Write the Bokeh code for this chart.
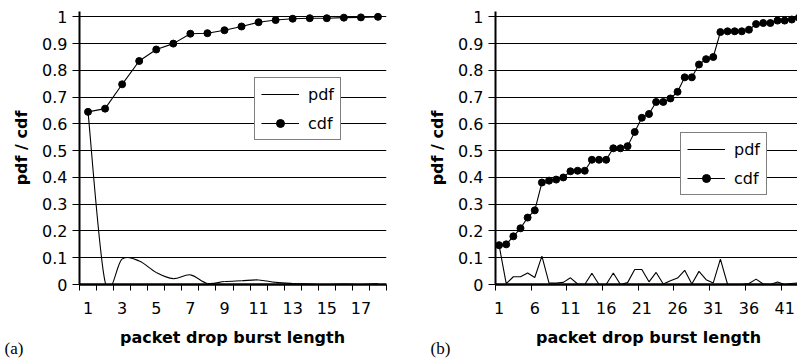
from bokeh.plotting import figure
from bokeh.layouts import row, column
from bokeh.models import FixedTicker, Range1d, Legend, LegendItem, Label, ColumnDataSource
from bokeh.embed import file_html
from bokeh.resources import INLINE

# ---------------- data ----------------
left_categories = list(range(1, 19))
left_pdf = [0.645, 0.010, 0.095, 0.088, 0.045, 0.022, 0.036, 0.004, 0.011,
            0.014, 0.017, 0.008, 0.004, 0.002, 0.000, 0.002, 0.000, 0.003]
left_cdf = [0.645, 0.657, 0.748, 0.835, 0.878, 0.900, 0.937, 0.939, 0.950,
            0.964, 0.980, 0.988, 0.993, 0.995, 0.995, 0.997, 0.998, 1.000]
left_tick_labels = ["1", "3", "5", "7", "9", "11", "13", "15", "17"]

right_categories = list(range(1, 44))
right_pdf = [0.147, 0.003, 0.029, 0.029, 0.043, 0.026, 0.106, 0.005, 0.005, 0.008,
             0.025, 0.002, 0.000, 0.042, 0.000, 0.000, 0.043, 0.000, 0.007, 0.056,
             0.056, 0.010, 0.045, 0.002, 0.014, 0.024, 0.053, 0.002, 0.049, 0.018,
             0.006, 0.095, 0.001, 0.000, 0.000, 0.004, 0.020, 0.002, 0.000, 0.009,
             0.000, 0.004, 0.006]
right_cdf = [0.147, 0.150, 0.180, 0.210, 0.250, 0.277, 0.381, 0.388, 0.392, 0.400,
             0.423, 0.425, 0.425, 0.466, 0.466, 0.466, 0.509, 0.509, 0.517, 0.570,
             0.623, 0.637, 0.682, 0.682, 0.695, 0.720, 0.774, 0.774, 0.822, 0.842,
             0.850, 0.943, 0.946, 0.946, 0.946, 0.952, 0.973, 0.977, 0.977, 0.986,
             0.986, 0.990, 0.997]
right_tick_labels = ["1", "6", "11", "16", "21", "26", "31", "36", "41"]

y_ticks = [0, 0.1, 0.2, 0.3, 0.4, 0.5, 0.6, 0.7, 0.8, 0.9, 1]
y_tick_labels = ["0", "0.1", "0.2", "0.3", "0.4", "0.5", "0.6", "0.7", "0.8", "0.9", "1"]

x_title = "packet drop burst length"
y_title = "pdf / cdf"
panel_tags = ["(a)", "(b)"]

FONT = "DejaVu Sans"


def base_fig(width, border_left, border_right, x_end, n_cats, label_every, tick_labels):
    p = figure(width=width, height=322, x_range=Range1d(0.5, x_end),
               y_range=Range1d(0, 1.02), output_backend="svg", toolbar_location=None,
               min_border_left=border_left, min_border_right=border_right,
               min_border_top=11, min_border_bottom=38)
    p.outline_line_color = None
    p.background_fill_color = "white"
    p.border_fill_color = "white"
    p.xgrid.visible = False
    p.ygrid.ticker = FixedTicker(ticks=y_ticks)
    p.ygrid.grid_line_color = "black"
    p.ygrid.grid_line_width = 1

    # y axis
    p.yaxis.ticker = FixedTicker(ticks=y_ticks)
    p.yaxis.major_label_overrides = {t: l for t, l in zip(y_ticks, y_tick_labels)}
    p.yaxis.major_tick_out = 7
    p.yaxis.major_tick_in = 0
    p.yaxis.minor_tick_line_color = None
    p.yaxis.axis_line_width = 2
    p.yaxis.axis_line_color = "black"
    p.yaxis.major_tick_line_color = "black"
    p.yaxis.major_label_text_font = FONT
    p.yaxis.major_label_text_font_size = "16px"
    p.yaxis.major_label_text_color = "black"
    p.yaxis.major_label_standoff = 5
    p.yaxis.axis_label = y_title
    p.yaxis.axis_label_text_font = FONT
    p.yaxis.axis_label_text_font_style = "bold"
    p.yaxis.axis_label_text_font_size = "16px"
    p.yaxis.axis_label_text_color = "black"
    p.yaxis.axis_label_standoff = 8

    # x axis (category style: ticks between categories)
    label_pos = [float(s) for s in tick_labels]
    boundaries = [i + 0.5 for i in range(0, n_cats + 1, label_every)]
    p.xaxis.ticker = FixedTicker(ticks=label_pos, minor_ticks=boundaries)
    p.xaxis.major_label_overrides = {v: s for v, s in zip(label_pos, tick_labels)}
    p.xaxis.major_tick_out = 0
    p.xaxis.major_tick_in = 0
    p.xaxis.minor_tick_out = 6
    p.xaxis.minor_tick_in = 0
    p.xaxis.minor_tick_line_color = "black"
    p.xaxis.minor_tick_line_width = 1
    p.xaxis.axis_line_width = 2.5
    p.xaxis.axis_line_color = "black"
    p.xaxis.major_label_text_font = FONT
    p.xaxis.major_label_text_font_size = "16px"
    p.xaxis.major_label_text_color = "black"
    p.xaxis.major_label_standoff = 11
    return p


def add_legend(p, pdf_r, cdf_rs, loc):
    leg = Legend(items=[LegendItem(label="pdf", renderers=[pdf_r]),
                        LegendItem(label="cdf", renderers=cdf_rs)],
                 location=loc, orientation="vertical")
    leg.border_line_color = "black"
    leg.border_line_width = 1
    leg.background_fill_color = "white"
    leg.background_fill_alpha = 1
    leg.label_text_font = FONT
    leg.label_text_font_size = "16px"
    leg.label_text_color = "black"
    leg.padding = 6
    leg.spacing = 9
    leg.margin = 0
    leg.glyph_width = 38
    leg.glyph_height = 20
    leg.label_height = 20
    leg.label_standoff = 9
    p.add_layout(leg)


def caption_strip(width, title_x, tag):
    # strip below a chart holding the x-axis title and the panel tag
    s = figure(width=width, height=40, x_range=Range1d(0, width), y_range=Range1d(0, 40),
               output_backend="svg", toolbar_location=None,
               min_border=0, min_border_left=0, min_border_right=0,
               min_border_top=0, min_border_bottom=0)
    s.axis.visible = False
    s.grid.visible = False
    s.outline_line_color = None
    s.background_fill_color = "white"
    s.border_fill_color = "white"
    s.add_layout(Label(x=title_x, y=25, x_units="screen", y_units="screen", text=x_title,
                       text_font=FONT, text_font_style="bold", text_font_size="16px",
                       text_align="center", text_baseline="middle", text_color="black"))
    s.add_layout(Label(x=4 if tag == "(a)" else 10, y=14, x_units="screen", y_units="screen",
                       text=tag, text_font="Liberation Serif", text_font_size="17px",
                       text_align="left", text_baseline="middle", text_color="black"))
    return s


# ---------------- left chart (a) ----------------
p1 = base_fig(420, 79, 34, 18.5, 18, 1, left_tick_labels)

# smoothed pdf curve (Catmull-Rom style bezier through the data points)
n = len(left_categories)
x0, y0, x1, y1, cx0, cy0, cx1, cy1 = [], [], [], [], [], [], [], []
for i in range(n - 1):
    a = max(i - 1, 0)
    b = min(i + 2, n - 1)
    x0.append(left_categories[i]); y0.append(left_pdf[i])
    x1.append(left_categories[i + 1]); y1.append(left_pdf[i + 1])
    cx0.append(left_categories[i] + (left_categories[i + 1] - left_categories[a]) / 6)
    cy0.append(left_pdf[i] + (left_pdf[i + 1] - left_pdf[a]) / 6)
    cx1.append(left_categories[i + 1] - (left_categories[b] - left_categories[i]) / 6)
    cy1.append(left_pdf[i + 1] - (left_pdf[b] - left_pdf[i]) / 6)
bez_src = ColumnDataSource(dict(x0=x0, y0=y0, x1=x1, y1=y1, cx0=cx0, cy0=cy0, cx1=cx1, cy1=cy1))
pdf_curve1 = p1.bezier(x0="x0", y0="y0", x1="x1", y1="y1", cx0="cx0", cy0="cy0",
                       cx1="cx1", cy1="cy1", source=bez_src,
                       line_color="black", line_width=1.1)
cdf_line1 = p1.line(left_categories, left_cdf, line_color="black", line_width=1.1)
cdf_pts1 = p1.scatter(left_categories, left_cdf, marker="circle", size=7,
                      fill_color="black", line_color="black")
add_legend(p1, pdf_curve1, [cdf_line1, cdf_pts1], (175, 144))

# ---------------- right chart (b) ----------------
p2 = base_fig(377, 75, 0, 42.8, 45, 5, right_tick_labels)
pdf_line2 = p2.line(right_categories, right_pdf, line_color="black", line_width=1.1)
cdf_line2 = p2.line(right_categories, right_cdf, line_color="black", line_width=1.1)
cdf_pts2 = p2.scatter(right_categories, right_cdf, marker="circle", size=7,
                      fill_color="black", line_color="black")
add_legend(p2, pdf_line2, [cdf_line2, cdf_pts2], (185, 89))

s1 = caption_strip(420, 232, panel_tags[0])
s2 = caption_strip(377, 228, panel_tags[1])

layout = column(row(p1, p2, spacing=0), row(s1, s2, spacing=0), spacing=0)
open("out.html", "w").write(file_html(layout, INLINE))
